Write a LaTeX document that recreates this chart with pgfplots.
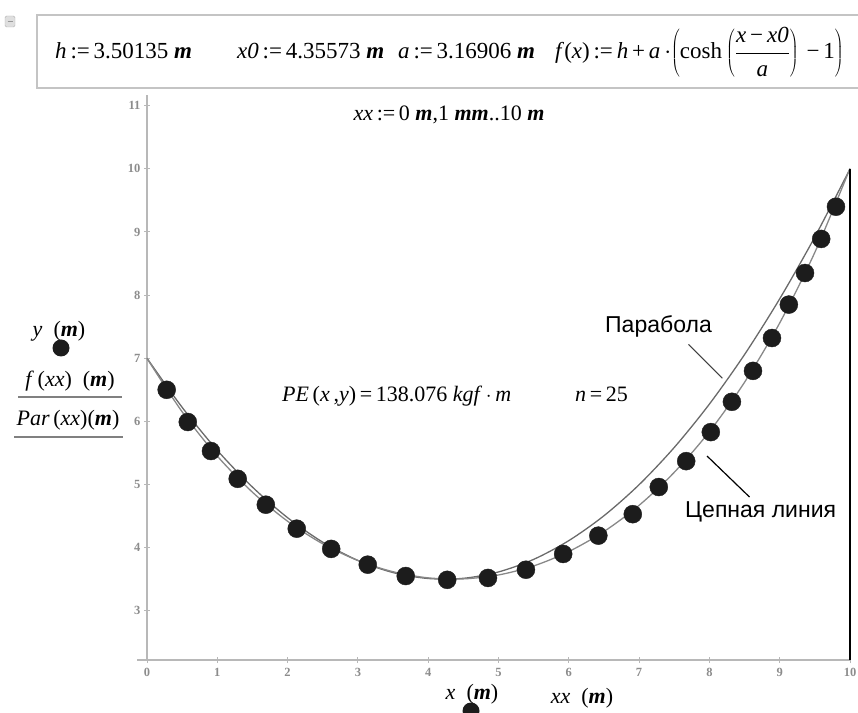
\documentclass[border=0pt]{standalone}
\usepackage{fontspec}
\setmainfont{Liberation Serif}
\newfontfamily\sansru{Liberation Sans}
\usepackage{pgfplots}
\pgfplotsset{compat=1.18}
\definecolor{axisgray}{HTML}{B8B8B8}
\definecolor{curvegray}{HTML}{6A6A6A}
\definecolor{tickgray}{HTML}{8C8C8C}
\definecolor{boxgray}{HTML}{C4C4C4}
\definecolor{dotblack}{HTML}{1C1C1C}
\newcommand{\um}{\textbf{\textit{m}}}
\newcommand{\fs}{\fontsize{22}{24}\selectfont}
\newcommand{\fh}{\fontsize{23}{25}\selectfont}

\pgfplotstableread{
x y
0.28 6.50
0.58 5.99
0.91 5.53
1.29 5.09
1.69 4.68
2.13 4.30
2.62 3.98
3.14 3.73
3.68 3.55
4.27 3.49
4.85 3.52
5.39 3.65
5.92 3.90
6.42 4.19
6.91 4.53
7.28 4.96
7.67 5.37
8.02 5.83
8.32 6.31
8.62 6.80
8.89 7.32
9.13 7.85
9.36 8.35
9.59 8.89
9.80 9.40
}\chaindots

\pgfplotstableread{
x y
0.0 6.997
0.5 6.151
1.0 5.450
1.5 4.878
2.0 4.418
2.5 4.060
3.0 3.796
3.5 3.618
4.0 3.521
4.5 3.505
5.0 3.567
5.5 3.710
6.0 3.938
6.5 4.255
7.0 4.670
7.5 5.193
8.0 5.838
8.5 6.620
9.0 7.559
9.5 8.678
10.0 10.005
}\catenary

\pgfplotstableread{
x y
0.0 7.000
0.5 6.222
1.0 5.541
1.5 4.959
2.0 4.474
2.5 4.086
3.0 3.797
3.5 3.605
4.0 3.511
4.5 3.514
5.0 3.615
5.5 3.814
6.0 4.111
6.5 4.505
7.0 4.997
7.5 5.587
8.0 6.274
8.5 7.059
9.0 7.942
9.5 8.922
10.0 10.000
}\parabola

\begin{document}
\begin{tikzpicture}
\useasboundingbox (0pt,0pt) rectangle (858pt,712pt);
% header box
\draw[boxgray, line width=1.2pt] (858pt,697pt) -- (37pt,697pt) -- (37pt,624pt) -- (858pt,624pt);
\draw[rounded corners=1.5pt, fill=gray!25, draw=gray!60] (5pt,685pt) rectangle (15pt,696pt);
\draw[gray!80, line width=1.2pt] (7.5pt,690.5pt) -- (12.5pt,690.5pt);
\node[anchor=base west, inner sep=0] at (55pt,653pt) {\fh\textit{h}\,:=\,3.50135 \um};
\node[anchor=base west, inner sep=0] at (237pt,653pt) {\fh\textit{x0}\,:=\,4.35573 \um};
\node[anchor=base west, inner sep=0] at (398pt,653pt) {\fh\textit{a}\,:=\,3.16906 \um};
\node[anchor=base west, inner sep=0] at (555pt,653pt) {\fh\textit{f}(\textit{x})\,:=\,\textit{h}\,+\,\textit{a}\,$\cdot$$\left(\mbox{\fh cosh}\left({\displaystyle\frac{\mbox{\fh\textit{x}\,−\,\textit{x0}}}{\mbox{\fh\textit{a}}}}\right)\mbox{\fh\,−\,1}\right)$};

\begin{axis}[
  at={(147pt,52pt)}, anchor=south west,
  scale only axis, width=703pt, height=565pt,
  xmin=0, xmax=10, ymin=2.22, ymax=11.17,
  axis x line=bottom, axis y line=left,
  axis line style={axisgray, line width=1.6pt, -},
  xtick={0,1,...,10}, ytick={3,4,...,11},
  tick style={axisgray, line width=1pt},
  major tick length=6pt, tick align=center,
  ticklabel style={font=\fontsize{12.5}{12.5}\selectfont\bfseries, text=tickgray},
  /pgf/number format/assume math mode=true,
  xticklabel style={yshift=-2pt},
  clip=false,
]
\addplot[only marks, mark=*, mark size=9pt, mark options={fill=dotblack, draw=dotblack}] table {\chaindots};
\addplot[curvegray, line width=1.3pt, smooth] table {\parabola};
\addplot[curvegray!80, line width=1.3pt, smooth] table {\catenary};
\addplot[black, line width=1.6pt] coordinates {(10,10) (10,2.22)};
\end{axis}
\draw[axisgray, line width=1.6pt] (137pt,52pt) -- (147pt,52pt);

% texts inside plot
\node[anchor=base, inner sep=0] at (449pt,591pt) {\fs\textit{xx}\,:=\,0 \um,1 \um\um..10 \um};
\node[anchor=base west, inner sep=0] at (282pt,310pt) {\fs\textit{PE}\,(\textit{x}\,,\textit{y})\,=\,138.076 \textit{kgf}\,$\cdot$\,\textit{m}};
\node[anchor=base west, inner sep=0] at (575pt,310pt) {\fs\textit{n}\,=\,25};
\node[anchor=base west, inner sep=0] at (605pt,379pt) {\sansru\fontsize{23}{25}\selectfont Парабола};
\node[anchor=base west, inner sep=0] at (685pt,195pt) {\sansru\fontsize{23}{25}\selectfont Цепная линия};
\draw[black!75, line width=0.9pt] (688.5pt,367.6pt) -- (722.4pt,333.7pt);
\draw[black, line width=1.2pt] (707pt,256pt) -- (749.5pt,215pt);

% y labels
\node[anchor=base, inner sep=0] at (59pt,375pt) {\fs\textit{y}\ \ (\um)};
\fill[dotblack] (61pt,364pt) circle (8.5pt);
\node[anchor=base, inner sep=0] at (70pt,325pt) {\fs\textit{f}\,(\textit{xx})\ \ (\um)};
\draw[gray, line width=2pt] (18pt,315pt) -- (122pt,315pt);
\node[anchor=base, inner sep=0] at (68pt,286pt) {\fs\textit{Par}\,(\textit{xx})(\um)};
\draw[gray, line width=2pt] (14pt,275pt) -- (123pt,275pt);

% x labels
\node[anchor=base, inner sep=0] at (472pt,13pt) {\fs\textit{x}\ \ (\um)};
\fill[dotblack] (471pt,1pt) circle (8.5pt);
\node[anchor=base, inner sep=0] at (582pt,9pt) {\fs\textit{xx}\ \ (\um)};
\end{tikzpicture}
\end{document}
